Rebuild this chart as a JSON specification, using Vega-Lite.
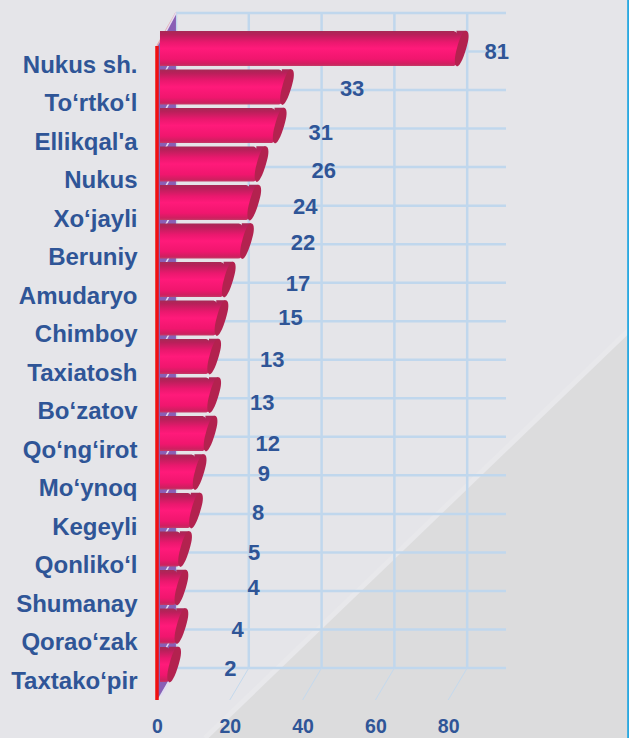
{"width":629,"height":738,"padding":0,"autosize":{"type":"none"},"background":"#e5e5e9","view":{"stroke":null},
"datasets":{
"regions":[{"region":"Nukus sh.","value":81},{"region":"To‘rtko‘l","value":33},{"region":"Ellikqal'a","value":31},{"region":"Nukus","value":26},{"region":"Xo‘jayli","value":24},{"region":"Beruniy","value":22},{"region":"Amudaryo","value":17},{"region":"Chimboy","value":15},{"region":"Taxiatosh","value":13},{"region":"Bo‘zatov","value":13},{"region":"Qo‘ng‘irot","value":12},{"region":"Mo‘ynoq","value":9},{"region":"Kegeyli","value":8},{"region":"Qonliko‘l","value":5},{"region":"Shumanay","value":4},{"region":"Qorao‘zak","value":4},{"region":"Taxtako‘pir","value":2}],
"ticks":[{"tick":0},{"tick":20},{"tick":40},{"tick":60},{"tick":80}],
"levels":[{"level":0},{"level":1},{"level":2},{"level":3},{"level":4},{"level":5},{"level":6},{"level":7},{"level":8},{"level":9},{"level":10},{"level":11},{"level":12},{"level":13},{"level":14},{"level":15},{"level":16},{"level":17}],
"wall":[{"depth":0,"top":0.856,"bottom":17.83},{"depth":5.2,"top":0,"bottom":17}],
"shade":[{"sx":13.2,"st":18.816,"sb":18.816},{"sx":129.67,"st":8.227,"sb":18.816}]},
"resolve":{"scale":{"y":"independent"}},
"layer":[
{"layer":[
{"data":{"name":"shade"},"mark":{"type":"area","fill":"#dcdcdd"},"encoding":{"x":{"field":"sx","type":"quantitative","scale":{"domain":[-43.13,129.67],"nice":false,"zero":false},"axis":{"title":null,"values":[0,20,40,60,80],"offset":-12,"zindex":2,"domain":false,"ticks":false,"grid":false,"labelPadding":0,"labelBaseline":"middle","labelFlush":false,"labelFont":"Liberation Sans","labelFontWeight":"bold","labelFontSize":19.5,"labelColor":"#2f5597"}},"y":{"field":"st","type":"quantitative","scale":{"domain":[-0.337,18.816],"reverse":true,"nice":false,"zero":false},"axis":null},"y2":{"field":"sb"}}},
{"data":{"name":"shade"},"mark":{"type":"line","stroke":"#e8e8eb","strokeWidth":5},"encoding":{"x":{"field":"sx","type":"quantitative"},"y":{"field":"st","type":"quantitative"}}},
{"data":{"name":"levels"},"mark":{"type":"rule","stroke":"#c0d7ed","strokeWidth":2.5,"xOffset":19,"x2Offset":19},"encoding":{"x":{"datum":0,"type":"quantitative"},"x2":{"datum":90.66},"y":{"field":"level","type":"quantitative"}}},
{"data":{"name":"ticks"},"mark":{"type":"rule","stroke":"#c0d7ed","strokeWidth":2.5,"xOffset":19},"encoding":{"x":{"field":"tick","type":"quantitative"},"y":{"datum":0,"type":"quantitative"},"y2":{"datum":17}}},
{"data":{"name":"ticks"},"mark":{"type":"rule","stroke":"#c4d9ed","strokeWidth":1,"xOffset":19},"encoding":{"x":{"field":"tick","type":"quantitative"},"x2":{"field":"tick"},"y":{"datum":17,"type":"quantitative"},"y2":{"datum":17.83}}},
{"data":{"name":"wall"},"mark":{"type":"area","fill":"#8a5fb5"},"encoding":{"x":{"field":"depth","type":"quantitative"},"y":{"field":"top","type":"quantitative"},"y2":{"field":"bottom"}}},
{"data":{"name":"wall"},"mark":{"type":"line","stroke":"#e8a6ad","strokeWidth":1.5},"encoding":{"x":{"field":"depth","type":"quantitative"},"y":{"field":"top","type":"quantitative"}}},
{"data":{"name":"levels"},"mark":{"type":"rule","stroke":"#e4dcf2","strokeWidth":1.5,"xOffset":19,"x2Offset":4,"y2Offset":28},"encoding":{"x":{"datum":0,"type":"quantitative"},"x2":{"datum":0},"y":{"field":"level","type":"quantitative"},"y2":{"field":"level"}}},
{"mark":{"type":"rule","stroke":"#f01010","strokeWidth":3},"data":{"name":"wall"},"encoding":{"x":{"datum":0,"type":"quantitative"},"y":{"datum":0.856,"type":"quantitative"},"y2":{"datum":17.83}}},
{"mark":{"type":"rule","stroke":"#2aa9e0","strokeWidth":2},"data":{"name":"wall"},"encoding":{"x":{"datum":129.5,"type":"quantitative"},"y":{"datum":-0.337,"type":"quantitative"},"y2":{"datum":18.816}}}
]},
{"data":{"name":"regions"},
"encoding":{"y":{"field":"region","type":"nominal","sort":null,"scale":{"range":[29.25,683.75],"paddingInner":0,"paddingOuter":0},"axis":{"title":null,"orient":"left","offset":-137,"zindex":2,"domain":false,"ticks":false,"grid":false,"labelPadding":0,"labelOffset":17,"labelFont":"Liberation Sans","labelFontWeight":"bold","labelFontSize":24,"labelColor":"#2f5597","labelLimit":200}}},
"layer":[
{"mark":{"type":"bar","height":35,"orient":"horizontal","xOffset":6,"x2Offset":3,"cornerRadiusTopRight":5,"cornerRadiusBottomRight":5,"fill":{"gradient":"linear","x1":0,"y1":0,"x2":0,"y2":1,"stops":[{"offset":0,"color":"#a62a55"},{"offset":0.1,"color":"#b8205a"},{"offset":0.32,"color":"#ea186e"},{"offset":0.5,"color":"#ff1a7a"},{"offset":0.8,"color":"#f0166e"},{"offset":0.94,"color":"#cf1f60"},{"offset":1,"color":"#c43a66"}]}},"encoding":{"x":{"field":"value","type":"quantitative"},"x2":{"datum":0}}},
{"mark":{"type":"point","filled":true,"opacity":1,"strokeWidth":0,"size":1260,"xOffset":10,"shape":"M-0.3,-1 L0.22,-1 L-0.25,1 L-0.3,1 Z","fill":{"gradient":"linear","x1":0,"y1":0,"x2":0,"y2":1,"stops":[{"offset":0,"color":"#a62a55"},{"offset":0.1,"color":"#b8205a"},{"offset":0.32,"color":"#ea186e"},{"offset":0.5,"color":"#ff1a7a"},{"offset":0.8,"color":"#f0166e"},{"offset":0.94,"color":"#cf1f60"},{"offset":1,"color":"#c43a66"}]}},"encoding":{"x":{"field":"value","type":"quantitative"}}},
{"mark":{"type":"point","filled":true,"opacity":1,"strokeWidth":0,"size":1260,"xOffset":10,"fill":"#b3224f","shape":"M0.22,-1 C0.42,-1 0.42,-0.6 0.3,-0.2 C0.15,0.4 -0.1,1 -0.25,1 C-0.45,1 -0.42,0.5 -0.28,0 C-0.12,-0.6 0.05,-1 0.22,-1 Z"},"encoding":{"x":{"field":"value","type":"quantitative"}}},
{"transform":[{"filter":"datum.region==='Nukus sh.'"}],"mark":{"type":"text","dx":45,"dy":3,"font":"Liberation Sans","fontWeight":"bold","fontSize":22,"fill":"#2f5597"},"encoding":{"x":{"field":"value","type":"quantitative"},"text":{"field":"value","type":"quantitative"}}},
{"transform":[{"filter":"datum.region==='To‘rtko‘l'"}],"mark":{"type":"text","dx":75,"dy":2,"font":"Liberation Sans","fontWeight":"bold","fontSize":22,"fill":"#2f5597"},"encoding":{"x":{"field":"value","type":"quantitative"},"text":{"field":"value","type":"quantitative"}}},
{"transform":[{"filter":"datum.region===\"Ellikqal'a\""}],"mark":{"type":"text","dx":51,"dy":7.5,"font":"Liberation Sans","fontWeight":"bold","fontSize":22,"fill":"#2f5597"},"encoding":{"x":{"field":"value","type":"quantitative"},"text":{"field":"value","type":"quantitative"}}},
{"transform":[{"filter":"datum.region==='Nukus'"}],"mark":{"type":"text","dx":72,"dy":7,"font":"Liberation Sans","fontWeight":"bold","fontSize":22,"fill":"#2f5597"},"encoding":{"x":{"field":"value","type":"quantitative"},"text":{"field":"value","type":"quantitative"}}},
{"transform":[{"filter":"datum.region==='Xo‘jayli'"}],"mark":{"type":"text","dx":61,"dy":4.5,"font":"Liberation Sans","fontWeight":"bold","fontSize":22,"fill":"#2f5597"},"encoding":{"x":{"field":"value","type":"quantitative"},"text":{"field":"value","type":"quantitative"}}},
{"transform":[{"filter":"datum.region==='Beruniy'"}],"mark":{"type":"text","dx":66,"dy":2,"font":"Liberation Sans","fontWeight":"bold","fontSize":22,"fill":"#2f5597"},"encoding":{"x":{"field":"value","type":"quantitative"},"text":{"field":"value","type":"quantitative"}}},
{"transform":[{"filter":"datum.region==='Amudaryo'"}],"mark":{"type":"text","dx":79,"dy":4.5,"font":"Liberation Sans","fontWeight":"bold","fontSize":22,"fill":"#2f5597"},"encoding":{"x":{"field":"value","type":"quantitative"},"text":{"field":"value","type":"quantitative"}}},
{"transform":[{"filter":"datum.region==='Chimboy'"}],"mark":{"type":"text","dx":79,"dy":0,"font":"Liberation Sans","fontWeight":"bold","fontSize":22,"fill":"#2f5597"},"encoding":{"x":{"field":"value","type":"quantitative"},"text":{"field":"value","type":"quantitative"}}},
{"transform":[{"filter":"datum.region==='Taxiatosh'"}],"mark":{"type":"text","dx":68,"dy":3.5,"font":"Liberation Sans","fontWeight":"bold","fontSize":22,"fill":"#2f5597"},"encoding":{"x":{"field":"value","type":"quantitative"},"text":{"field":"value","type":"quantitative"}}},
{"transform":[{"filter":"datum.region==='Bo‘zatov'"}],"mark":{"type":"text","dx":58,"dy":8,"font":"Liberation Sans","fontWeight":"bold","fontSize":22,"fill":"#2f5597"},"encoding":{"x":{"field":"value","type":"quantitative"},"text":{"field":"value","type":"quantitative"}}},
{"transform":[{"filter":"datum.region==='Qo‘ng‘irot'"}],"mark":{"type":"text","dx":67,"dy":10.5,"font":"Liberation Sans","fontWeight":"bold","fontSize":22,"fill":"#2f5597"},"encoding":{"x":{"field":"value","type":"quantitative"},"text":{"field":"value","type":"quantitative"}}},
{"transform":[{"filter":"datum.region==='Mo‘ynoq'"}],"mark":{"type":"text","dx":74,"dy":2,"font":"Liberation Sans","fontWeight":"bold","fontSize":22,"fill":"#2f5597"},"encoding":{"x":{"field":"value","type":"quantitative"},"text":{"field":"value","type":"quantitative"}}},
{"transform":[{"filter":"datum.region==='Kegeyli'"}],"mark":{"type":"text","dx":72,"dy":2.5,"font":"Liberation Sans","fontWeight":"bold","fontSize":22,"fill":"#2f5597"},"encoding":{"x":{"field":"value","type":"quantitative"},"text":{"field":"value","type":"quantitative"}}},
{"transform":[{"filter":"datum.region==='Qonliko‘l'"}],"mark":{"type":"text","dx":79,"dy":4,"font":"Liberation Sans","fontWeight":"bold","fontSize":22,"fill":"#2f5597"},"encoding":{"x":{"field":"value","type":"quantitative"},"text":{"field":"value","type":"quantitative"}}},
{"transform":[{"filter":"datum.region==='Shumanay'"}],"mark":{"type":"text","dx":82,"dy":0,"font":"Liberation Sans","fontWeight":"bold","fontSize":22,"fill":"#2f5597"},"encoding":{"x":{"field":"value","type":"quantitative"},"text":{"field":"value","type":"quantitative"}}},
{"transform":[{"filter":"datum.region==='Qorao‘zak'"}],"mark":{"type":"text","dx":66,"dy":4,"font":"Liberation Sans","fontWeight":"bold","fontSize":22,"fill":"#2f5597"},"encoding":{"x":{"field":"value","type":"quantitative"},"text":{"field":"value","type":"quantitative"}}},
{"transform":[{"filter":"datum.region==='Taxtako‘pir'"}],"mark":{"type":"text","dx":66,"dy":4.5,"font":"Liberation Sans","fontWeight":"bold","fontSize":22,"fill":"#2f5597"},"encoding":{"x":{"field":"value","type":"quantitative"},"text":{"field":"value","type":"quantitative"}}}
]}
]}
